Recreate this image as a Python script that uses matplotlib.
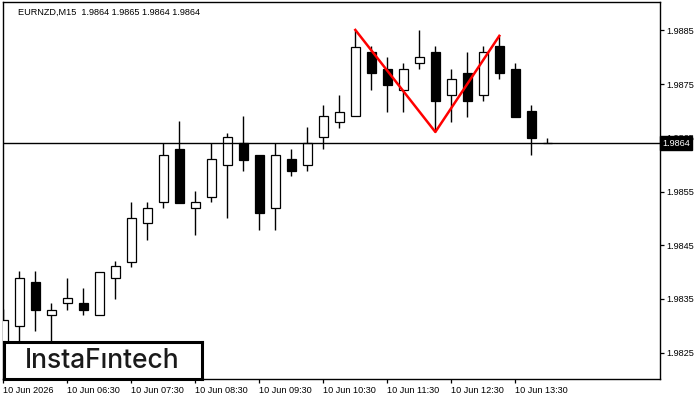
import numpy as np
import matplotlib
matplotlib.use("Agg")
import matplotlib.pyplot as plt
import matplotlib.transforms as mtransforms

# EURNZD M15 candles
opens = [1.98255, 1.98300, 1.98381, 1.98321, 1.98342, 1.98342, 1.98321, 1.98390,
         1.98419, 1.98491, 1.98530, 1.98630, 1.98520, 1.98540, 1.98600, 1.98640,
         1.98619, 1.98520, 1.98610, 1.98600, 1.98651, 1.98680, 1.98690, 1.98809,
         1.98779, 1.98739, 1.98790, 1.98809, 1.98729, 1.98770, 1.98729, 1.98821,
         1.98779, 1.98700, 1.98640]
highs = [1.98332, 1.98402, 1.98402, 1.98342, 1.98390, 1.98371, 1.98401, 1.98420,
         1.98530, 1.98530, 1.98640, 1.98681, 1.98551, 1.98640, 1.98660, 1.98690,
         1.98619, 1.98640, 1.98630, 1.98670, 1.98711, 1.98730, 1.98851, 1.98821,
         1.98800, 1.98790, 1.98851, 1.98821, 1.98779, 1.98809, 1.98821, 1.98839,
         1.98790, 1.98711, 1.98650]
lows = [1.98240, 1.98220, 1.98291, 1.98260, 1.98329, 1.98321, 1.98321, 1.98350,
        1.98410, 1.98460, 1.98520, 1.98529, 1.98469, 1.98530, 1.98500, 1.98589,
        1.98479, 1.98479, 1.98579, 1.98589, 1.98630, 1.98669, 1.98690, 1.98739,
        1.98698, 1.98698, 1.98778, 1.98661, 1.98680, 1.98689, 1.98719, 1.98759,
        1.98689, 1.98618, 1.98640]
closes = [1.98311, 1.98390, 1.98329, 1.98330, 1.98351, 1.98329, 1.98401, 1.98411,
          1.98500, 1.98520, 1.98619, 1.98529, 1.98530, 1.98610, 1.98651, 1.98608,
          1.98510, 1.98619, 1.98589, 1.98640, 1.98690, 1.98699, 1.98820, 1.98770,
          1.98749, 1.98779, 1.98800, 1.98719, 1.98759, 1.98719, 1.98809, 1.98770,
          1.98689, 1.98650, 1.98640]

# double top pattern (bar index, price)
pattern_bars = [22, 27, 31]
pattern_prices = [1.98851, 1.98661, 1.98840]

last_price = 1.9864
title = "EURNZD,M15  1.9864 1.9865 1.9864 1.9864"

xtick_bars = [0, 4, 8, 12, 16, 20, 24, 28, 32]
xtick_labels = ["10 Jun 2026", "10 Jun 06:30", "10 Jun 07:30", "10 Jun 08:30",
                "10 Jun 09:30", "10 Jun 10:30", "10 Jun 11:30", "10 Jun 12:30",
                "10 Jun 13:30"]
yticks = [1.9825, 1.9835, 1.9845, 1.9855, 1.9865, 1.9875, 1.9885]

W, H = 700, 400
fig = plt.figure(figsize=(7, 4), dpi=100)
ax = fig.add_axes([2.5 / W, (H - 379) / H, 657.5 / W, 377 / H])

o = np.array(opens)
h = np.array(highs)
l = np.array(lows)
c = np.array(closes)
x = np.arange(len(o))
up = c >= o

ax.vlines(x, l, h, color="black", lw=1.0, zorder=2)
body_lo = np.minimum(o, c)
body_hi = np.maximum(o, c)
colors = np.where(up, "white", "black")
ax.bar(x, body_hi - body_lo, bottom=body_lo, width=0.6, color=colors,
       edgecolor="black", linewidth=0.9, zorder=3)

ax.axhline(last_price, color="black", lw=1.0, zorder=4)
ax.plot(pattern_bars, pattern_prices, color="#ff0000", lw=1.8, zorder=5)

ax.set_xlim(-0.05, 41.04)
ax.set_ylim(1.98201, 1.98903)

ax.yaxis.tick_right()
ax.set_yticks(yticks)
ax.set_yticklabels(["%.4f" % v for v in yticks])
ax.set_xticks(xtick_bars)
ax.set_xticklabels(xtick_labels, ha="left")
ax.tick_params(axis="both", direction="out", length=3, width=0.9,
               labelsize=6.6, colors="black")
ax.tick_params(axis="x", pad=2)
ax.tick_params(axis="y", pad=1.5)
for lab in ax.get_xticklabels() + ax.get_yticklabels():
    lab.set_fontfamily("Liberation Sans")
for sp in ax.spines.values():
    sp.set_linewidth(1.0)

# last price marker on the price scale
trans = mtransforms.blended_transform_factory(ax.transAxes, ax.transData)
ax.text(1.003, last_price, "1.9864", transform=trans, ha="left", va="center",
        fontsize=6.6, family="Liberation Sans", color="white", clip_on=False,
        zorder=10, bbox=dict(boxstyle="square,pad=0.25", fc="black", ec="black"))

fig.text(18 / W, 1 - 12 / H, title, ha="left", va="center", fontsize=6.6,
         family="Liberation Sans", color="black")

# logo box
logo = fig.add_axes([3.5 / W, (H - 378.5) / H, 198 / W, 37 / H])
logo.set_xticks([])
logo.set_yticks([])
for sp in logo.spines.values():
    sp.set_linewidth(2.2)
logo.text(0.5, 0.46, "InstaFıntech", ha="center", va="center", fontsize=19,
          family="Inter", fontweight="medium", color="#1a1a1a",
          transform=logo.transAxes)

fig.savefig("out.png", dpi=100)
